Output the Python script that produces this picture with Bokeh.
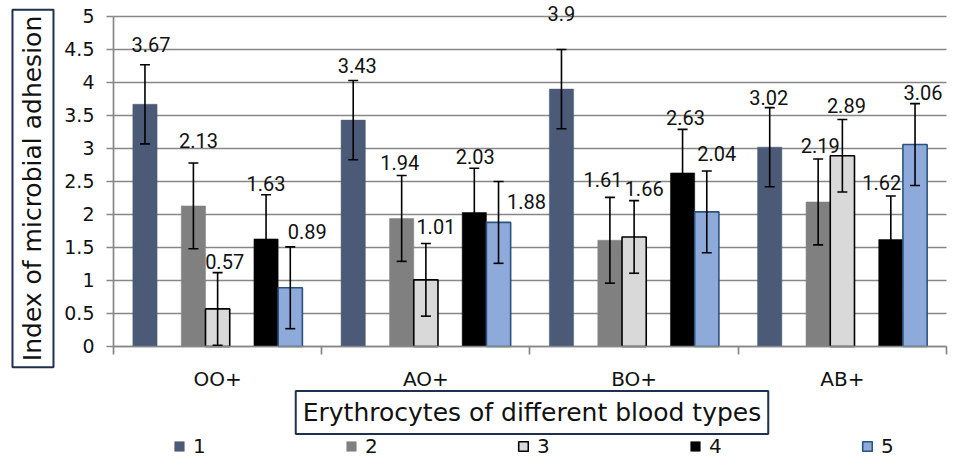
import math
from bokeh.plotting import figure
from bokeh.models import (Range1d, FixedTicker, Label, LabelSet, Legend, LegendItem,
                          ColumnDataSource, Whisker, TeeHead, CustomJSTickFormatter)
from bokeh.core.properties import value
from bokeh.embed import file_html
from bokeh.resources import INLINE

# ---------------- data ----------------
categories = ["OO+", "AO+", "BO+", "AB+"]
series_names = ["1", "2", "3", "4", "5"]
s1 = [3.67, 3.43, 3.90, 3.02]
s2 = [2.13, 1.94, 1.61, 2.19]
s3 = [0.57, 1.01, 1.66, 2.89]
s4 = [1.63, 2.03, 2.63, 1.62]
s5 = [0.89, 1.88, 2.04, 3.06]
err1 = [0.60, 0.60, 0.60, 0.60]
err2 = [0.65, 0.65, 0.65, 0.65]
err3 = [0.55, 0.55, 0.55, 0.55]
err4 = [0.67, 0.67, 0.66, 0.66]
err5 = [0.62, 0.62, 0.62, 0.62]
y_ticks = [0, 0.5, 1, 1.5, 2, 2.5, 3, 3.5, 4, 4.5, 5]
y_title = "Index of microbial adhesion"
x_title = "Erythrocytes of different blood types"

series_values = [s1, s2, s3, s4, s5]
series_errors = [err1, err2, err3, err4, err5]

# ---------------- styles ----------------
fills = ["#4a5a77", "#808080", "#d9d9d9", "#000000", "#8eaadb"]
outlines = [None, None, "#000000", None, "#2b5380"]
slot_index = [0, 2, 3, 5, 6]
slot_w = 0.1163
label_dx = [[6, 4, 0, -1], [5, -2, -7, 2], [7, 10, 10, 4], [0, 1, 3, -9], [17, 28, 10, 8]]
label_gap = [[13, 8, 28, 3], [15, 6, 10, 6], [4, 10, 5, 6], [4, 4, 4, 6], [8, -28, 10, 4]]
grid_color = "#878787"
box_color = "#1f2f4f"
txt_color = "#111111"

n = len(categories)
p = figure(width=949, height=458, x_range=Range1d(-0.5426, 4.0144),
           y_range=Range1d(-1.697, 5.2424),
           output_backend="svg", toolbar_location=None, min_border=0)
p.outline_line_color = None
p.background_fill_color = "white"
p.xgrid.visible = False
p.ygrid.visible = False

# horizontal gridlines, only across the category area
p.segment(x0=0, x1=n, y0=y_ticks, y1=y_ticks, line_color=grid_color, line_width=1.7)

# y axis
p.yaxis.fixed_location = 0
p.yaxis.bounds = (0, 5)
p.yaxis.ticker = FixedTicker(ticks=y_ticks)
p.yaxis.formatter = CustomJSTickFormatter(code="return String(tick)")
p.yaxis.axis_line_color = grid_color
p.yaxis.axis_line_width = 1.7
p.yaxis.major_tick_line_color = grid_color
p.yaxis.major_tick_line_width = 1.7
p.yaxis.major_tick_out = 7
p.yaxis.major_tick_in = 0
p.yaxis.minor_tick_line_color = None
p.yaxis.major_label_standoff = 12
p.yaxis.major_label_text_font = "DejaVu Sans"
p.yaxis.major_label_text_font_size = "19px"
p.yaxis.major_label_text_color = txt_color

# x axis: labels at category centres, ticks at category boundaries
p.xaxis.fixed_location = 0
p.xaxis.bounds = (0, n)
p.xaxis.ticker = FixedTicker(ticks=[i + 0.5 for i in range(n)],
                             minor_ticks=list(range(n + 1)))
p.xaxis.formatter = CustomJSTickFormatter(args=dict(cats=categories),
                                          code="return cats[Math.floor(tick)]")
p.xaxis.axis_line_color = grid_color
p.xaxis.axis_line_width = 1.7
p.xaxis.major_tick_line_color = None
p.xaxis.major_tick_out = 0
p.xaxis.major_tick_in = 0
p.xaxis.minor_tick_line_color = grid_color
p.xaxis.minor_tick_line_width = 1.7
p.xaxis.minor_tick_out = 8
p.xaxis.minor_tick_in = 0
p.xaxis.major_label_standoff = 13
p.xaxis.major_label_text_font = "DejaVu Sans"
p.xaxis.major_label_text_font_size = "20px"
p.xaxis.major_label_text_color = txt_color

legend_items = []
for k, (vals, errs) in enumerate(zip(series_values, series_errors)):
    xs = [i + 0.5 + (slot_index[k] - 3) * slot_w for i in range(n)]
    src = ColumnDataSource(dict(
        x=xs, top=vals, upper=[v + e for v, e in zip(vals, errs)],
        lower=[v - e for v, e in zip(vals, errs)],
        text=[f"{v:g}" for v in vals],
        dx=label_dx[k], gap=label_gap[k]))
    r = p.vbar(x="x", top="top", width=slot_w, bottom=0, source=src,
               fill_color=fills[k],
               line_color=outlines[k] if outlines[k] else fills[k],
               line_width=1.6 if outlines[k] else 0.5)
    legend_items.append(LegendItem(label=series_names[k], renderers=[r]))
    w = Whisker(base="x", upper="upper", lower="lower", source=src, dimension="height",
                line_color="black", line_width=1.6,
                upper_head=TeeHead(size=10, line_color="black", line_width=1.6),
                lower_head=TeeHead(size=10, line_color="black", line_width=1.6),
                level="overlay")
    p.add_layout(w)
    ls = LabelSet(x="x", y="upper", text="text", source=src, x_offset="dx", y_offset="gap",
                  text_align="center", text_baseline="alphabetic",
                  text_font=value("Roboto"), text_font_size=value("20px"),
                  text_color=txt_color, level="overlay")
    p.add_layout(ls)

# boxed axis titles
p.add_layout(Label(x=2.0096, y=-1.0, text=x_title, text_align="center", text_baseline="middle",
                   text_font="DejaVu Sans", text_font_size="25px", text_color=txt_color,
                   border_line_color=box_color, border_line_width=2,
                   background_fill_color="white", padding=7))
p.add_layout(Label(x=-0.3866, y=2.394, text=y_title, angle=math.pi / 2,
                   text_align="center", text_baseline="middle",
                   text_font="DejaVu Sans", text_font_size="25px", text_color=txt_color,
                   border_line_color=box_color, border_line_width=2,
                   background_fill_color="white", padding=6))

legend = Legend(items=legend_items, orientation="horizontal", location=(173, 0),
                glyph_width=12, glyph_height=12, label_width=152, spacing=0,
                padding=0, margin=0, border_line_color=None, background_fill_alpha=0,
                label_standoff=8, label_text_font="DejaVu Sans", label_text_font_size="20px",
                label_text_color=txt_color)
p.add_layout(legend)

open("out.html", "w").write(file_html(p, INLINE))
